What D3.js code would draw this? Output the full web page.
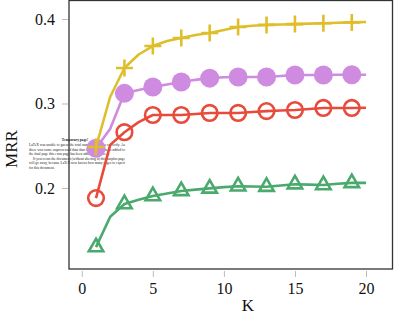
<!DOCTYPE html>
<html>
<head>
<meta charset="utf-8">
<script src="https://cdn.jsdelivr.net/npm/d3@7"></script>
<style>
  body { margin: 0; background: #fff; }
  svg { display: block; }
  .axis text { font-family: "Liberation Serif", "DejaVu Serif", serif; font-size: 16px; fill: #111; }
  .axis line { stroke: #bbb; stroke-width: 1; }
  .axis path { display: none; }
</style>
</head>
<body>
<svg id="svg1"></svg>
<script>
// K values and MRR for the four runs
var ks = d3.range(1, 21);
var plusSeries   = [0.2485, 0.308, 0.342, 0.358, 0.368, 0.374, 0.3775, 0.381, 0.3834, 0.387, 0.3905, 0.392, 0.393, 0.3935, 0.394, 0.3945, 0.395, 0.3955, 0.396, 0.3965];
var dotSeries    = [0.247, 0.27, 0.312, 0.316, 0.3195, 0.3225, 0.3255, 0.328, 0.330, 0.331, 0.3314, 0.3314, 0.3314, 0.3325, 0.3337, 0.3337, 0.3337, 0.334, 0.334, 0.334];
var ringSeries   = [0.188, 0.251, 0.266, 0.278, 0.2864, 0.2864, 0.2864, 0.2876, 0.2888, 0.2888, 0.2888, 0.29, 0.291, 0.2917, 0.2923, 0.2935, 0.2947, 0.2947, 0.2947, 0.295];
var triSeries    = [0.130, 0.166, 0.181, 0.186, 0.1905, 0.1935, 0.1965, 0.198, 0.1995, 0.201, 0.202, 0.2017, 0.2015, 0.203, 0.2045, 0.204, 0.2035, 0.205, 0.206, 0.206];
var xTicks = [0, 5, 10, 15, 20];
var yTicks = [0.2, 0.3, 0.4];

// leftover latex warning text sitting on the page
var tmpTitle = "Temporary page!";
var tmpLines = [
  "LaTeX was unable to guess the total number of pages correctly. As",
  "there was some unprocessed data that should have been added to",
  "the final page this extra page has been added to receive it.",
  "If you rerun the document (without altering it) this surplus page",
  "will go away, because LaTeX now knows how many pages to expect",
  "for this document."
];

var W = 394, H = 317;
var plot = { left: 69, right: 393, top: 0, bottom: 269 };

var svg = d3.select("#svg1").attr("width", W).attr("height", H);

var x = d3.scaleLinear().domain([-0.9, 21.9]).range([plot.left, plot.right]);
var y = d3.scaleLinear().domain([0.1041, 0.4225]).range([plot.bottom, plot.top]);

// warning text (behind everything)
var tmp = svg.append("g").attr("font-family", "Liberation Serif, serif").attr("fill", "#222");
tmp.append("text").attr("x", 75).attr("y", 140.5).attr("text-anchor", "middle")
  .attr("font-size", 3.6).attr("font-weight", "bold").text(tmpTitle);
tmpLines.forEach(function (t, i) {
  var indent = (i === 3) ? 4 : 0;
  var el = tmp.append("text")
    .attr("x", 29 + indent)
    .attr("y", 146 + i * 4.5)
    .attr("font-size", 3.5)
    .text(t);
  if (i !== 2 && i !== 5) el.attr("textLength", 96 - indent).attr("lengthAdjust", "spacingAndGlyphs");
});

// axes
svg.append("g").attr("class", "axis")
  .attr("transform", "translate(0," + (plot.bottom + 2) + ")")
  .call(d3.axisBottom(x).tickValues(xTicks).tickSize(6).tickPadding(5.6).tickFormat(d3.format("d")));

svg.append("g").attr("class", "axis")
  .attr("transform", "translate(" + (plot.left - 1) + ",0)")
  .call(d3.axisLeft(y).tickValues(yTicks).tickSize(6).tickPadding(7).tickFormat(d3.format(".1f")));

svg.append("rect")
  .attr("x", plot.left).attr("y", 0.5)
  .attr("width", plot.right - plot.left - 0.5).attr("height", plot.bottom - 0.5)
  .attr("fill", "none").attr("stroke", "#333").attr("stroke-width", 1.3);

svg.append("text").attr("x", 248).attr("y", 311)
  .attr("text-anchor", "middle")
  .attr("font-family", "Liberation Serif, serif").attr("font-size", 17).attr("fill", "#111")
  .text("K");
svg.append("text")
  .attr("transform", "translate(17,149) rotate(-90)")
  .attr("text-anchor", "middle")
  .attr("font-family", "Liberation Serif, serif").attr("font-size", 17).attr("fill", "#111")
  .text("MRR");

var line = d3.line().x(function (d) { return x(d.k); }).y(function (d) { return y(d.v); });

function pack(vals) {
  return vals.map(function (v, i) { return { k: ks[i], v: v }; });
}

var series = [
  { vals: triSeries,  color: "#4aa96c", mark: "tri" },
  { vals: ringSeries, color: "#e84a3b", mark: "ring" },
  { vals: dotSeries,  color: "#cf8bdf", mark: "dot" },
  { vals: plusSeries, color: "#dfbe2b", mark: "plus" }
];

series.forEach(function (s) {
  var pts = pack(s.vals);
  var g = svg.append("g");
  g.append("path").datum(pts)
    .attr("d", line)
    .attr("fill", "none").attr("stroke", s.color).attr("stroke-width", 2.6)
    .attr("stroke-linejoin", "round");

  // markers every other K
  var mk = g.selectAll(".m").data(pts.filter(function (d, i) { return i % 2 === 0; }))
    .enter().append("g")
    .attr("transform", function (d) { return "translate(" + x(d.k) + "," + y(d.v) + ")"; });

  if (s.mark === "dot") {
    mk.append("circle").attr("r", 9.5).attr("fill", s.color);
  } else if (s.mark === "ring") {
    mk.append("circle").attr("r", 7.8).attr("fill", "none")
      .attr("stroke", s.color).attr("stroke-width", 2.6);
  } else if (s.mark === "tri") {
    mk.append("path").attr("d", d3.symbol(d3.symbolTriangle2, 150))
      .attr("fill", "none").attr("stroke", s.color).attr("stroke-width", 2.6);
  } else {
    mk.append("path").attr("d", "M-8.5,0H8.5M0,-8.5V8.5")
      .attr("stroke", s.color).attr("stroke-width", 2.6);
  }
});
</script>
</body>
</html>
